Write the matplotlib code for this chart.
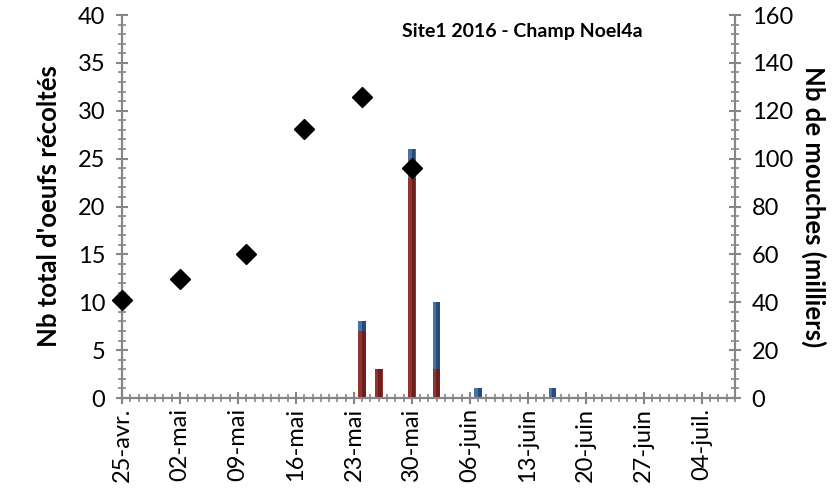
import matplotlib
matplotlib.use("Agg")
import matplotlib.pyplot as plt
from matplotlib.ticker import MultipleLocator, FixedLocator, FixedFormatter

# ---- data (x as days since 25 April 2016) ----
fly_days = [0, 7, 15, 22, 29, 35]
fly_thousands = [40.8, 49.6, 60.0, 112.4, 125.6, 96.0]

egg_days = [29, 31, 35, 38, 43, 52]
eggs_red = [7, 3, 23, 3, 0, 0]
eggs_blue = [1, 0, 3, 7, 1, 1]

tick_days = [0, 7, 14, 21, 28, 35, 42, 49, 56, 63, 70]
tick_labels = ["25-avr.", "02-mai", "09-mai", "16-mai", "23-mai", "30-mai",
               "06-juin", "13-juin", "20-juin", "27-juin", "04-juil."]

title = "Site1 2016 - Champ Noel4a"
ylabel_left = "Nb total d'oeufs récoltés"
ylabel_right = "Nb de mouches (milliers)"

plt.rcParams['font.family'] = ['Lato', 'DejaVu Sans']
grey = "#868686"

fig = plt.figure(figsize=(8.35, 5.04), dpi=100)
ax = fig.add_axes([0.1461, 0.2103, 0.7341, 0.7599])

w = 0.9
# main bars
ax.bar(egg_days, eggs_red, width=w, color="#943230", edgecolor="none", zorder=2)
ax.bar(egg_days, eggs_blue, width=w, bottom=eggs_red, color="#4373AA",
       edgecolor="none", zorder=2)
# darker right-hand shading (Excel bevel look)
shade_x = [d + w * 0.2 for d in egg_days]
ax.bar(shade_x, eggs_red, width=w * 0.5, color="#5E1B1A", edgecolor="none",
       alpha=0.75, zorder=3)
ax.bar(shade_x, eggs_blue, width=w * 0.5, bottom=eggs_red, color="#1F3F66",
       edgecolor="none", alpha=0.75, zorder=3)

ax.set_xlim(0, 74)
ax.set_ylim(0, 40)
ax.yaxis.set_major_locator(MultipleLocator(5))
ax.yaxis.set_minor_locator(MultipleLocator(1))
ax.xaxis.set_major_locator(FixedLocator(tick_days))
ax.xaxis.set_major_formatter(FixedFormatter(tick_labels))
ax.xaxis.set_minor_locator(MultipleLocator(1))

ax.spines["top"].set_visible(False)
for s in ["left", "bottom", "right"]:
    ax.spines[s].set_color(grey)
    ax.spines[s].set_linewidth(1.5)

ax.tick_params(axis="both", which="major", direction="inout", length=8,
               width=1.5, color=grey, labelsize=17)
ax.tick_params(axis="both", which="minor", direction="inout", length=5.5,
               width=1.2, color=grey)
ax.tick_params(axis="x", which="major", pad=3)
ax.tick_params(axis="y", which="major", pad=8)
for lab in ax.get_xticklabels():
    lab.set_rotation(90)

ax.set_ylabel(ylabel_left, fontsize=18.5, fontweight="bold", labelpad=12)

ax2 = ax.twinx()
ax2.plot(fly_days, fly_thousands, linestyle="none", marker="D", markersize=10,
         color="black", zorder=5, clip_on=False)
ax2.set_ylim(0, 160)
ax2.yaxis.set_major_locator(MultipleLocator(20))
ax2.yaxis.set_minor_locator(MultipleLocator(4))
ax2.spines["top"].set_visible(False)
for s in ["left", "bottom", "right"]:
    ax2.spines[s].set_color(grey)
    ax2.spines[s].set_linewidth(1.5)
ax2.tick_params(axis="y", which="major", direction="inout", length=8,
                width=1.5, color=grey, labelsize=17, pad=8)
ax2.tick_params(axis="y", which="minor", direction="inout", length=5.5,
                width=1.2, color=grey)
ax2.set_ylabel(ylabel_right, fontsize=18.5, fontweight="bold", rotation=270,
               labelpad=24)

ax.text(0.457, 0.956, title, transform=ax.transAxes, fontsize=14,
        fontweight="bold", ha="left", va="center")

fig.savefig("out.png", dpi=100)
